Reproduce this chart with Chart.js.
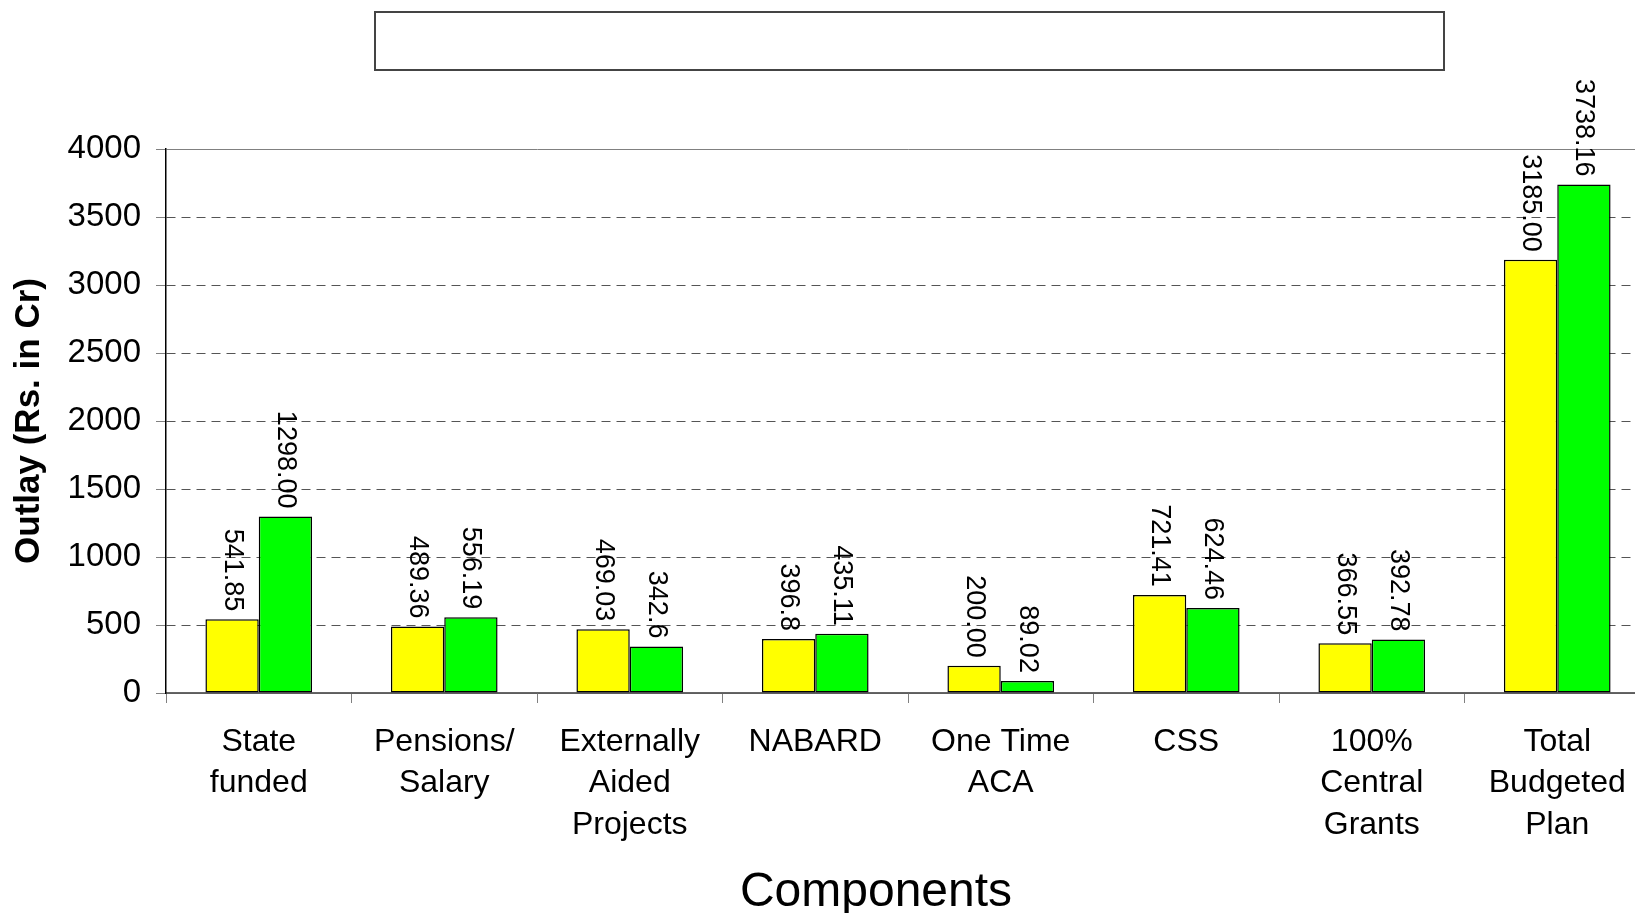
<!DOCTYPE html>
<html>
<head>
<meta charset="utf-8">
<script src="https://cdn.jsdelivr.net/npm/chart.js@4.4.1/dist/chart.umd.min.js"></script>
<style>
  html, body { margin: 0; padding: 0; background: #fff; overflow: hidden; }
  #wrap { position: relative; width: 1650px; height: 913px; }
  #titlebox { position: absolute; left: 374px; top: 11px; width: 1067px; height: 56px; border: 2px solid #444; background: #fff; }
  canvas { position: absolute; left: 0; top: 0; }
</style>
</head>
<body>
<div id="wrap">
  <canvas id="c" width="1650" height="913"></canvas>
  <div id="titlebox"></div>
</div>
<script>
const categories = [
  ["State", "funded"],
  ["Pensions/", "Salary"],
  ["Externally", "Aided", "Projects"],
  ["NABARD"],
  ["One Time", "ACA"],
  ["CSS"],
  ["100%", "Central", "Grants"],
  ["Total", "Budgeted", "Plan"]
];
const yellowValues = [541.85, 489.36, 469.03, 396.8, 200.00, 721.41, 366.55, 3185.00];
const greenValues  = [1298.00, 556.19, 342.6, 435.11, 89.02, 624.46, 392.78, 3738.16];
const yellowLabels = ["541.85", "489.36", "469.03", "396.8", "200.00", "721.41", "366.55", "3185.00"];
const greenLabels  = ["1298.00", "556.19", "342.6", "435.11", "89.02", "624.46", "392.78", "3738.16"];
const yTicks = { min: 0, max: 4000, step: 500 };
const xTitle = "Components";
const yTitle = "Outlay (Rs. in Cr)";

const FONT = "'Liberation Sans', Arial, sans-serif";

const rotatedLabels = {
  id: 'rotatedLabels',
  afterDatasetsDraw(chart) {
    const ctx = chart.ctx;
    chart.data.datasets.forEach((ds, di) => {
      const meta = chart.getDatasetMeta(di);
      meta.data.forEach((el, i) => {
        const txt = ds.valueLabels[i];
        ctx.save();
        ctx.translate(el.x, el.y - 8);
        ctx.rotate(Math.PI / 2);
        ctx.font = "27px " + FONT;
        ctx.fillStyle = "#000";
        ctx.textAlign = "right";
        ctx.textBaseline = "middle";
        ctx.fillText(txt, 0, 0);
        ctx.restore();
      });
    });
  }
};

const xTitlePlugin = {
  id: 'xTitlePlugin',
  afterDraw(chart) {
    const ctx = chart.ctx;
    const a = chart.chartArea;
    ctx.save();
    ctx.font = "48px " + FONT;
    ctx.fillStyle = "#000";
    ctx.textAlign = "center";
    ctx.textBaseline = "middle";
    ctx.fillText(xTitle, (a.left + a.right) / 2 - 32, chart.height - 20);
    ctx.restore();
  }
};

new Chart(document.getElementById('c'), {
  type: 'bar',
  data: {
    labels: categories,
    datasets: [
      { label: 'Yellow', data: yellowValues, valueLabels: yellowLabels,
        backgroundColor: '#FFFF00', borderColor: '#000', borderWidth: 1.5, borderSkipped: false },
      { label: 'Green', data: greenValues, valueLabels: greenLabels,
        backgroundColor: '#00FF00', borderColor: '#000', borderWidth: 1.5, borderSkipped: false }
    ]
  },
  options: {
    responsive: false,
    animation: false,
    devicePixelRatio: 1,
    layout: { padding: { top: 149, right: 0, bottom: 0, left: 0 } },
    plugins: { legend: { display: false }, tooltip: { enabled: false }, title: { display: false } },
    datasets: { bar: { categoryPercentage: 0.575, barPercentage: 1.0 } },
    scales: {
      x: {
        afterFit(s) { s.height = 220; },
        grid: { display: true, drawOnChartArea: false, drawTicks: true, tickLength: 10, tickColor: '#808080', offset: true },
        border: { display: true, color: '#666', width: 1.5 },
        ticks: { color: '#000', font: { family: FONT, size: 32, lineHeight: 1.3 }, padding: 18, maxRotation: 0, minRotation: 0, autoSkip: false },
        title: { display: false }
      },
      y: {
        min: yTicks.min, max: yTicks.max,
        afterFit(s) { s.width = 166; },
        grid: { color: (c) => (c.tick && c.tick.value === yTicks.max) ? '#808080' : '#555', lineWidth: 1, tickLength: 10, tickColor: '#808080', tickBorderDash: [] },
        border: { display: true, color: '#000', width: 1.5, dash: (c) => (c.tick && (c.tick.value === yTicks.max || c.tick.value === yTicks.min)) ? [] : [9, 6] },
        ticks: { stepSize: yTicks.step, color: '#000', font: { family: FONT, size: 33 }, padding: 15, callback: (v) => String(v) },
        title: { display: true, text: yTitle, color: '#000', font: { family: FONT, size: 35, weight: 'bold', lineHeight: 1.0 }, padding: { top: 12, bottom: 0 } }
      }
    }
  },
  plugins: [rotatedLabels, xTitlePlugin]
});
</script>
</body>
</html>
